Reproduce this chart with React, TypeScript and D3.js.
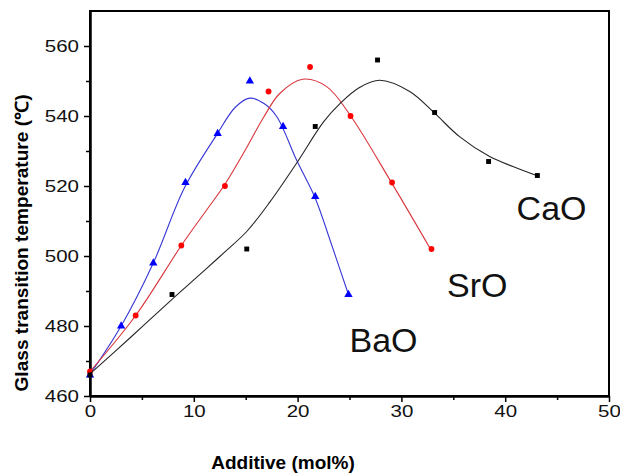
import { useEffect, useRef } from "react";
import * as d3 from "d3";

// measured points
const baoX = [0, 3, 6.1, 9.2, 12.3, 15.4, 18.6, 21.7, 24.9];
const baoY = [466, 480, 498, 521, 535, 550, 537, 517, 489];
const sroX = [0, 4.4, 8.8, 13.0, 17.2, 21.2, 25.1, 29.1, 32.9];
const sroY = [467, 483, 503, 520, 547, 554, 540, 521, 502];
const caoX = [0, 7.9, 15.1, 21.7, 27.7, 33.2, 38.4, 43.1];
const caoY = [466, 489, 502, 537, 556, 541, 527, 523];

// fitted curves
const baoFitX = [0, 3, 6.1, 9.1, 12.2, 14, 15.4, 16.8, 18, 19.9, 21.7, 23.3, 24.9];
const baoFitY = [466.2, 480, 498, 519.5, 534.6, 542.5, 545.1, 543.5, 539.8, 527.4, 516.5, 503, 489];
const sroFitX = [0, 4.4, 8.8, 11.2, 13, 15.1, 16.7, 18.3, 20.5, 22.8, 25.05, 29.06, 32.8];
const sroFitY = [467, 483, 503, 513, 520.5, 531, 539.5, 546.5, 550.5, 548.4, 540.3, 520.9, 502];
const caoFitX = [0, 4, 7.9, 11, 13, 15.1, 17.3, 19.9, 22.5, 24.1, 26, 27.9, 30.8, 33.2, 35.6, 38.5, 40.8, 43.1];
const caoFitY = [466.3, 477, 487.6, 495.8, 501.2, 507, 515.3, 526.5, 538.3, 543.6, 548.2, 550.2, 547, 540.8, 534.1, 528.4, 525.5, 522.9];

const xTicks = [0, 10, 20, 30, 40, 50];
const xMinor = [5, 15, 25, 35, 45];
const yTicks = [460, 480, 500, 520, 540, 560];
const yMinor = [470, 490, 510, 530, 550];

const labels = [
  { name: "CaO", x: 41.1, y: 510.3 },
  { name: "SrO", x: 34.4, y: 488.3 },
  { name: "BaO", x: 25.0, y: 472.6 },
];

function App() {
  const ref = useRef<SVGSVGElement>(null);

  const width = 620;
  const height = 475;
  const margin = { top: 11, right: 11, bottom: 79, left: 90 };

  useEffect(() => {
    const svg = d3.select(ref.current);
    svg.selectAll("*").remove();

    const x = d3.scaleLinear().domain([0, 50]).range([margin.left, width - margin.right]);
    const y = d3.scaleLinear().domain([460, 570]).range([height - margin.bottom, margin.top]);
    const font = "'Liberation Sans', Arial, sans-serif";

    // frame
    svg.append("rect")
      .attr("x", x(0)).attr("y", y(570))
      .attr("width", x(50) - x(0)).attr("height", y(460) - y(570))
      .attr("fill", "none").attr("stroke", "#000").attr("stroke-width", 2);

    const xAxis = svg.append("g")
      .attr("transform", `translate(0, ${y(460)})`)
      .call(d3.axisBottom(x).tickValues(xTicks).tickSize(6).tickSizeOuter(0).tickPadding(3).tickFormat(d3.format("d")));
    svg.append("g")
      .attr("transform", `translate(0, ${y(460)})`)
      .call(d3.axisBottom(x).tickValues(xMinor).tickSize(4).tickSizeOuter(0).tickFormat(() => ""));

    const yAxis = svg.append("g")
      .attr("transform", `translate(${x(0)}, 0)`)
      .call(d3.axisLeft(y).tickValues(yTicks).tickSize(6).tickSizeOuter(0).tickPadding(5).tickFormat(d3.format("d")));
    svg.append("g")
      .attr("transform", `translate(${x(0)}, 0)`)
      .call(d3.axisLeft(y).tickValues(yMinor).tickSize(4).tickSizeOuter(0).tickFormat(() => ""));

    svg.selectAll(".domain").attr("stroke-width", 2);
    svg.selectAll(".tick line").attr("stroke-width", 1.5);
    [xAxis, yAxis].forEach((g) => {
      g.selectAll("text")
        .attr("font-family", font)
        .attr("font-size", 16.5)
        .attr("fill", "#111")
        .attr("textLength", function () { return (this as SVGTextElement).textContent!.length * 11.4; })
        .attr("lengthAdjust", "spacingAndGlyphs");
    });

    const series = [
      { px: baoX, py: baoY, fx: baoFitX, fy: baoFitY, line: "#3636d6", color: "#0000ff", shape: d3.symbolTriangle, size: 30 },
      { px: sroX, py: sroY, fx: sroFitX, fy: sroFitY, line: "#d8343c", color: "#ff0000", shape: d3.symbolCircle, size: 26 },
      { px: caoX, py: caoY, fx: caoFitX, fy: caoFitY, line: "#262626", color: "#000000", shape: d3.symbolSquare, size: 24 },
    ];

    const fitLine = d3.line().curve(d3.curveCatmullRom.alpha(0.5));

    series.forEach((s) => {
      const pts = s.fx.map((v, i) => [x(v), y(s.fy[i])] as [number, number]);
      svg.append("path")
        .attr("d", fitLine(pts))
        .attr("fill", "none")
        .attr("stroke", s.line)
        .attr("stroke-width", 1.1);

      svg.append("g")
        .selectAll("path")
        .data(s.px)
        .enter()
        .append("path")
        .attr("transform", (d, i) => `translate(${x(d)}, ${y(s.py[i])})`)
        .attr("d", d3.symbol().type(s.shape).size(s.size)())
        .attr("fill", s.color);
    });

    svg.append("g")
      .selectAll("text")
      .data(labels)
      .enter()
      .append("text")
      .attr("x", (d) => x(d.x))
      .attr("y", (d) => y(d.y))
      .attr("font-family", font)
      .attr("font-size", 34)
      .attr("fill", "#111")
      .text((d) => d.name);

    svg.append("text")
      .attr("x", 283)
      .attr("y", 469)
      .attr("text-anchor", "middle")
      .attr("font-family", font)
      .attr("font-weight", "bold")
      .attr("font-size", 19)
      .attr("fill", "#000")
      .text("Additive (mol%)");

    svg.append("text")
      .attr("transform", "translate(28, 243) rotate(-90)")
      .attr("text-anchor", "middle")
      .attr("font-family", font)
      .attr("font-weight", "bold")
      .attr("font-size", 18)
      .attr("fill", "#000")
      .attr("textLength", 297)
      .attr("lengthAdjust", "spacingAndGlyphs")
      .text("Glass transition temperature (\u2103)");
  });

  return (
    <div id="container">
      <svg ref={ref} width={width} height={height} style={{ position: "absolute", left: 0, top: 0, background: "#fff" }}></svg>
    </div>
  );
}

export default App;
